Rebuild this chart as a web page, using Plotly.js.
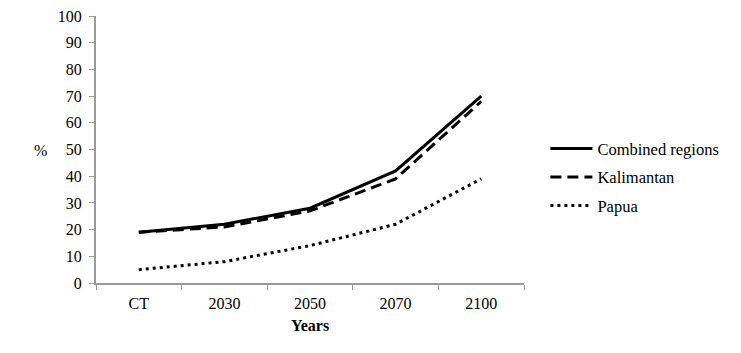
<!DOCTYPE html>
<html>
<head>
<meta charset="utf-8">
<script src="https://cdn.plot.ly/plotly-3.0.1.min.js"></script>
<style>
  html, body { margin: 0; padding: 0; background: #fff; }
  #chart { width: 741px; height: 353px; }
</style>
</head>
<body>
<div id="chart"></div>
<script>
// categories along the x axis
const years = ['CT', '2030', '2050', '2070', '2100'];

// % values per series
const combined = [19, 22, 28, 42, 70];
const kalimantan = [19, 21, 27, 39, 68];
const papua = [5, 8, 14, 22, 39];

const font = '"Liberation Serif", serif';

const series = [
	{ name: 'Combined regions', y: combined, dash: 'solid', group: 'a' },
	{ name: 'Kalimantan', y: kalimantan, dash: '11px,6px', group: 'b' },
	{ name: 'Papua', y: papua, dash: '3px,4px', group: 'c' },
];

const data = series.map(s => ({
	x: years,
	y: s.y,
	name: s.name,
	legendgroup: s.group,
	type: 'scatter',
	mode: 'lines',
	line: { color: '#000', width: 3, dash: s.dash },
	hoverinfo: 'skip',
}));

const layout = {
	width: 741,
	height: 353,
	margin: { l: 96, r: 217, t: 16, b: 70 },
	paper_bgcolor: '#fff',
	plot_bgcolor: '#fff',
	font: { family: font, size: 16, color: '#000' },
	showlegend: true,
	legend: {
		x: 1.05,
		xanchor: 'left',
		y: 0.568,
		yanchor: 'top',
		font: { family: font, size: 16.5, color: '#000' },
		tracegroupgap: 4,
		traceorder: 'grouped',
		itemwidth: 42,
		bgcolor: 'rgba(0,0,0,0)',
	},
	xaxis: {
		type: 'category',
		range: [-0.5, 4.5],
		showline: true,
		linecolor: '#999',
		linewidth: 2,
		showgrid: false,
		zeroline: false,
		ticks: 'outside',
		tickson: 'boundaries',
		ticklen: 5,
		tickcolor: '#999',
		ticklabelstandoff: 5,
		tickfont: { family: font, size: 16, color: '#000' },
		title: { text: '<b>Years</b>', font: { family: font, size: 16, color: '#000' }, standoff: 9 },
	},
	yaxis: {
		range: [0, 100],
		dtick: 10,
		showline: true,
		linecolor: '#999',
		linewidth: 2,
		showgrid: false,
		zeroline: false,
		ticks: 'outside',
		ticklen: 5,
		tickcolor: '#999',
		ticklabelstandoff: 4,
		tickfont: { family: font, size: 16, color: '#000' },
	},
	annotations: [
		{
			text: '%',
			xref: 'paper', yref: 'paper',
			x: -0.13, y: 0.495,
			xanchor: 'center', yanchor: 'middle',
			showarrow: false,
			font: { family: font, size: 16, color: '#000' },
		},
	],
};

Plotly.newPlot('chart', data, layout, { displayModeBar: false, staticPlot: true });
</script>
</body>
</html>
